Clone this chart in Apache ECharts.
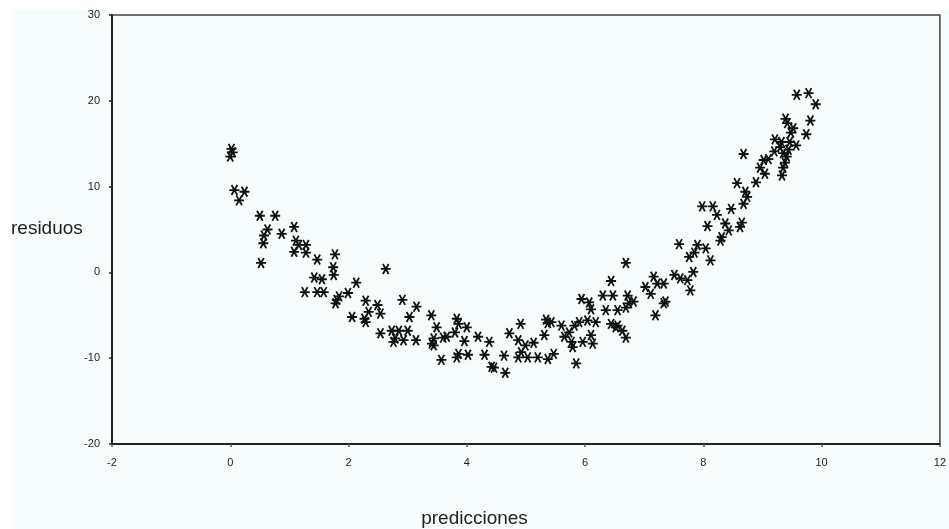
<!DOCTYPE html>
<html>
<head>
<meta charset="utf-8">
<script src="https://cdn.jsdelivr.net/npm/echarts@6/dist/echarts.min.js"></script>
<style>
html,body{margin:0;padding:0;background:#ffffff;}
#chart{width:949px;height:529px;}
</style>
</head>
<body>
<div id="chart"></div>
<script>
const xTicks = [-2, 0, 2, 4, 6, 8, 10, 12];
const yTicks = [-20, -10, 0, 10, 20, 30];
const xName = 'predicciones';
const yName = 'residuos';
const predicciones = [
  0.02,0.04,0.0,0.07,0.24,0.15,
  0.50,0.76,1.08,0.63,0.57,0.56,0.87,1.11,1.16,1.28,1.08,1.28,1.47,1.77,0.52,
  1.74,1.75,1.42,1.55,2.63,
  1.26,1.47,1.58,
  2.13,1.99,1.84,1.78,1.80,
  2.06,2.29,2.49,2.34,2.54,2.27,2.29,
  2.91,3.15,3.03,3.40,
  2.54,2.73,2.85,2.79,2.93,3.00,3.14,2.76,
  3.49,3.44,3.44,3.60,3.57,3.41,
  3.83,3.86,4.00,3.80,3.66,3.96,3.86,4.02,3.83,
  4.19,4.38,4.30,4.46,4.42,4.63,4.65,
  4.72,4.91,4.87,4.99,5.13,4.92,4.87,5.03,5.20,5.37,5.47,
  5.34,5.43,5.31,5.37,
  5.60,5.65,5.73,5.77,5.79,5.85,5.96,6.10,5.94,6.07,6.10,6.04,6.18,6.13,5.82,5.90,
  6.30,6.44,6.47,6.35,6.55,6.44,6.55,6.63,6.69,6.72,6.74,6.82,6.69,6.69,6.52,
  7.02,7.16,7.11,7.22,7.33,7.33,7.19,7.36,
  7.51,7.61,7.73,7.78,7.83,7.76,8.12,7.59,7.90,8.04,7.85,
  8.29,8.31,8.43,8.62,8.65,8.37,8.07,8.23,7.98,8.16,8.47,8.68,8.74,8.71,8.57,8.68,
  8.89,9.04,8.96,9.02,9.10,9.33,9.35,9.38,9.41,9.35,9.20,9.57,9.46,9.32,9.21,9.48,9.52,9.42,9.39,9.74,9.81,9.90,9.58,9.78,
  9.44,9.30
];
const residuos = [
  14.4,14.0,13.5,9.6,9.4,8.4,
  6.6,6.6,5.3,5.0,4.3,3.4,4.5,3.7,3.2,3.2,2.4,2.3,1.5,2.1,1.1,
  0.6,-0.3,-0.6,-0.8,0.4,
  -2.3,-2.3,-2.3,
  -1.2,-2.4,-2.8,-3.6,-3.2,
  -5.2,-3.3,-3.8,-4.6,-4.8,-5.4,-5.8,
  -3.2,-4.0,-5.2,-5.0,
  -7.1,-6.8,-6.8,-7.7,-7.9,-6.8,-7.9,-8.1,
  -6.4,-7.7,-8.5,-7.6,-10.2,-8.3,
  -5.4,-6.0,-6.4,-7.0,-7.5,-8.0,-9.5,-9.6,-9.9,
  -7.5,-8.1,-9.6,-11.1,-11.0,-9.7,-11.7,
  -7.1,-6.0,-7.9,-8.5,-8.2,-9.3,-9.9,-9.9,-9.9,-10.1,-9.5,
  -5.5,-5.8,-7.3,-5.9,
  -6.2,-7.5,-7.0,-8.1,-8.7,-10.6,-8.1,-7.3,-3.1,-3.5,-4.3,-5.6,-5.8,-8.3,-6.2,-5.8,
  -2.7,-1.0,-2.7,-4.4,-4.4,-6.0,-6.2,-6.8,-7.6,-2.7,-3.6,-3.4,-4.1,1.1,-6.4,
  -1.7,-0.5,-2.5,-1.3,-1.3,-3.6,-5.0,-3.4,
  -0.3,-0.7,-0.9,-2.1,0.05,1.8,1.4,3.3,3.2,2.8,2.3,
  3.7,4.1,4.9,5.3,5.8,5.7,5.4,6.7,7.7,7.7,7.4,8.0,8.8,9.4,10.4,13.8,
  10.5,11.5,12.2,13.1,13.2,11.3,12.2,12.8,13.5,13.9,14.1,14.8,15.2,15.2,15.5,16.3,16.8,17.4,17.9,16.1,17.7,19.6,20.7,20.9,
  14.3,14.6
];

const points = predicciones.map((x, i) => [x, residuos[i]]);
const star = 'path://M-4.5,0L4.5,0M-2.6,-4.5L2.6,4.5M-2.6,4.5L2.6,-4.5';

const chart = echarts.init(document.getElementById('chart'));
const labelFont = {fontFamily: 'Liberation Sans, Arial, sans-serif', fontSize: 11, color: '#222'};
chart.setOption({
  backgroundColor: '#f7fdfd',
  animation: false,
  graphic: [
    {type: 'rect', shape: {x: 0, y: 0, width: 12, height: 529}, style: {fill: '#ffffff'}, z: -10, silent: true},
    {type: 'rect', shape: {x: 0, y: 0, width: 949, height: 10}, style: {fill: '#ffffff'}, z: -10, silent: true},
    {type: 'text', left: 11, top: 219, style: {text: yName, font: '19px "Liberation Sans", Arial, sans-serif', fill: '#222'}},
    {type: 'text', left: 'center', top: 509, style: {text: xName, font: '19px "Liberation Sans", Arial, sans-serif', fill: '#222', x: 518, textAlign: 'center'}}
  ],
  grid: {left: 112, right: 6, top: 15, bottom: 85, show: true, borderColor: '#444', borderWidth: 1.5, backgroundColor: 'transparent'},
  xAxis: {
    type: 'value', min: xTicks[0], max: xTicks[xTicks.length - 1], interval: 2,
    axisLine: {show: true, onZero: false, lineStyle: {color: '#222', width: 2}},
    axisTick: {show: true, length: 3, lineStyle: {color: '#555', width: 1.5}},
    axisLabel: Object.assign({margin: 13}, labelFont),
    splitLine: {show: false}
  },
  yAxis: {
    type: 'value', min: yTicks[0], max: yTicks[yTicks.length - 1], interval: 10,
    axisLine: {show: true, onZero: false, lineStyle: {color: '#222', width: 2}},
    axisTick: {show: true, length: 3, lineStyle: {color: '#222', width: 1.5}},
    axisLabel: Object.assign({margin: 12}, labelFont),
    splitLine: {show: false}
  },
  series: [{
    type: 'scatter',
    data: points,
    symbol: star,
    symbolSize: [10, 10],
    itemStyle: {color: 'rgba(0,0,0,0)', borderColor: '#111', borderWidth: 1.8, opacity: 1},
    emphasis: {disabled: true}
  }]
});
</script>
</body>
</html>
